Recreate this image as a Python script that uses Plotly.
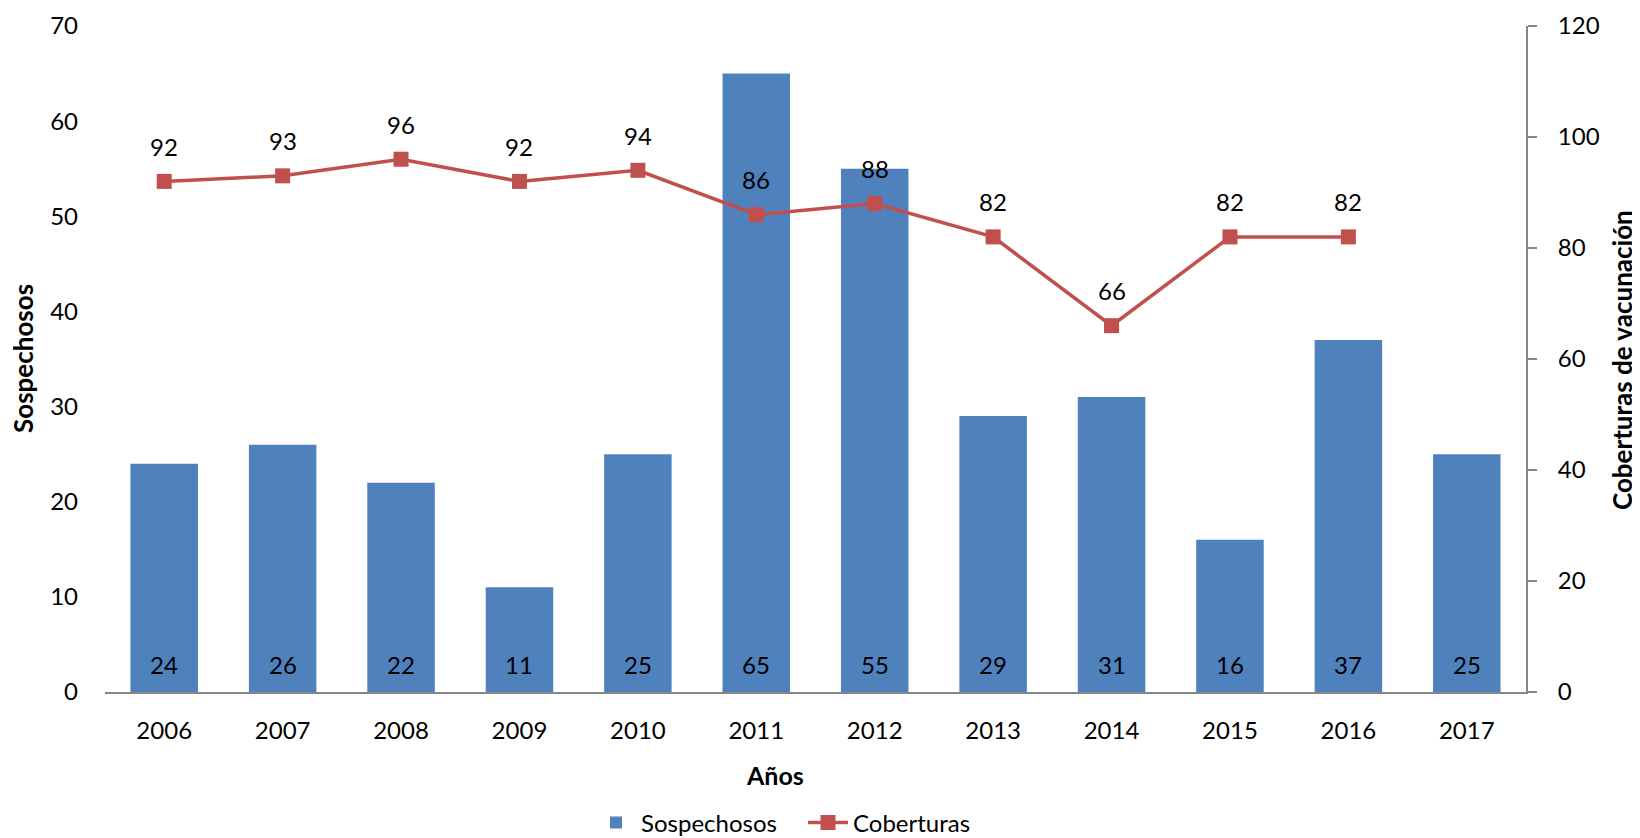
import plotly.graph_objects as go

years = ["2006", "2007", "2008", "2009", "2010", "2011", "2012", "2013", "2014", "2015", "2016", "2017"]
sospechosos = [24, 26, 22, 11, 25, 65, 55, 29, 31, 16, 37, 25]
cob_years = ["2006", "2007", "2008", "2009", "2010", "2011", "2012", "2013", "2014", "2015", "2016"]
coberturas = [92, 93, 96, 92, 94, 86, 88, 82, 66, 82, 82]

left_ticks = [0, 10, 20, 30, 40, 50, 60, 70]
right_ticks = [0, 20, 40, 60, 80, 100, 120]

BLUE = "#4F81BD"
RED = "#C0504D"
AXIS = "#868686"
FONT = "Lato"

# figure is placed 8px from page corner (body margin); plot area in figure px
W, H = 1632, 838
L, T, R_EDGE, B_EDGE = 97, 18, 1518, 684
PW, PH = R_EDGE - L, B_EDGE - T

fig = go.Figure()
fig.add_trace(go.Bar(
    x=years, y=sospechosos, name="Sospechosos",
    marker=dict(color=BLUE, line=dict(width=0)),
    yaxis="y",
))
fig.add_trace(go.Scatter(
    x=cob_years, y=coberturas, name="Coberturas", mode="lines+markers",
    line=dict(color=RED, width=3.5),
    marker=dict(symbol="square", size=15, color=RED),
    yaxis="y2",
))

annotations = []
for i, v in enumerate(sospechosos):
    annotations.append(dict(x=i, y=0, xref="x", yref="y", text=str(v), showarrow=False,
                            yanchor="middle", yshift=28, font=dict(size=24, color="black", family=FONT)))
for i, v in enumerate(coberturas):
    annotations.append(dict(x=years.index(cob_years[i]), y=v, xref="x", yref="y2", text=str(v), showarrow=False,
                            yanchor="middle", yshift=35, font=dict(size=24, color="black", family=FONT)))

annotations.append(dict(text="<b>Años</b>", x=(767 - L) / PW, y=-(767 - B_EDGE) / PH, xref="paper", yref="paper",
                        showarrow=False, xanchor="center", yanchor="middle",
                        font=dict(size=25, color="black", family=FONT)))
annotations.append(dict(text="<b>Sospechosos</b>", x=(15 - L) / PW, y=(B_EDGE - 351) / PH,
                        xref="paper", yref="paper", showarrow=False, textangle=-90,
                        xanchor="center", yanchor="middle",
                        font=dict(size=26, color="black", family=FONT)))
annotations.append(dict(text="<b>Coberturas de vacunación</b>", x=(1614 - L) / PW, y=(B_EDGE - 352) / PH,
                        xref="paper", yref="paper", showarrow=False, textangle=-90,
                        xanchor="center", yanchor="middle",
                        font=dict(size=26, color="black", family=FONT)))

fig.update_layout(
    width=W, height=H,
    margin=dict(l=L, r=W - R_EDGE, t=T, b=H - B_EDGE, autoexpand=False),
    paper_bgcolor="white", plot_bgcolor="white",
    font=dict(family=FONT, size=24, color="black"),
    bargap=0.43,
    showlegend=True,
    legend=dict(orientation="h", x=(803 - 8 - L) / PW, xanchor="center", y=-(815 - B_EDGE) / PH,
                yanchor="middle", font=dict(size=24, family=FONT, color="black"), itemwidth=40,
                entrywidth=157, entrywidthmode="pixels"),
    xaxis=dict(type="category", range=[-0.5, len(years) - 0.5], autorange=False, automargin=False,
               showgrid=False, showline=True, linecolor=AXIS, linewidth=2, ticks="",
               ticklabelstandoff=16, tickfont=dict(size=24, family=FONT, color="black")),
    yaxis=dict(range=[0, 70], tickvals=left_ticks, showgrid=False, showline=False, zeroline=False,
               automargin=False,
               ticks="", ticklabelstandoff=26, tickfont=dict(size=24, family=FONT, color="black")),
    yaxis2=dict(range=[0, 120], tickvals=right_ticks, overlaying="y", side="right", showgrid=False,
                showline=True, linecolor=AXIS, linewidth=2, zeroline=False, automargin=False,
                ticks="outside", ticklen=9, tickwidth=2, tickcolor=AXIS, ticklabelstandoff=16,
                tickfont=dict(size=24, family=FONT, color="black")),
    annotations=annotations,
)

fig.write_html("out.html")
